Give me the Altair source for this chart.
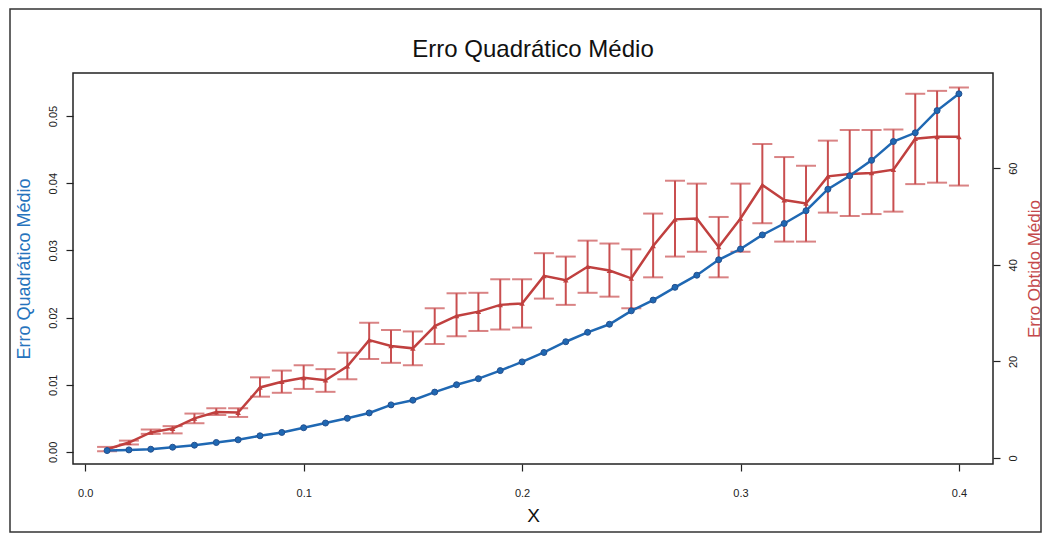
import altair as alt
import pandas as pd

# ---- data ----
x_vals = [0.01, 0.02, 0.03, 0.04, 0.05, 0.06, 0.07, 0.08, 0.09, 0.10,
          0.11, 0.12, 0.13, 0.14, 0.15, 0.16, 0.17, 0.18, 0.19, 0.20,
          0.21, 0.22, 0.23, 0.24, 0.25, 0.26, 0.27, 0.28, 0.29, 0.30,
          0.31, 0.32, 0.33, 0.34, 0.35, 0.36, 0.37, 0.38, 0.39, 0.40]

eqm = [0.0002, 0.0003, 0.0004, 0.0007, 0.0010, 0.0014, 0.0018, 0.0024, 0.0029, 0.0036,
       0.0043, 0.0050, 0.0058, 0.0070, 0.0077, 0.0089, 0.0100, 0.0109, 0.0121, 0.0134,
       0.0148, 0.0164, 0.0178, 0.0190, 0.0210, 0.0226, 0.0245, 0.0263, 0.0286, 0.0302,
       0.0323, 0.0340, 0.0359, 0.0391, 0.0411, 0.0434, 0.0462, 0.0475, 0.0508, 0.0533]

erro_medio = [1.8, 3.2, 5.3, 6.1, 8.2, 9.5, 9.4, 14.6, 15.8, 16.6,
              16.1, 19.0, 24.4, 23.2, 22.7, 27.3, 29.4, 30.3, 31.7, 32.0,
              37.7, 36.8, 39.6, 38.8, 37.2, 43.9, 49.4, 49.6, 43.7, 49.6,
              56.5, 53.4, 52.7, 58.3, 58.8, 59.0, 59.7, 66.1, 66.5, 66.5]

erro_sup = [2.3, 3.6, 5.9, 6.6, 9.2, 10.3, 10.3, 16.7, 18.1, 19.2,
            18.4, 21.8, 28.0, 26.5, 26.2, 31.0, 34.1, 34.2, 37.0, 37.0,
            42.4, 41.7, 45.0, 44.4, 43.2, 50.6, 57.4, 56.8, 49.9, 56.8,
            65.0, 62.3, 60.5, 65.7, 67.9, 67.9, 68.0, 75.4, 76.0, 76.7]

erro_inf = [1.4, 2.8, 5.0, 5.1, 7.2, 8.9, 8.5, 12.7, 13.5, 14.3,
            13.7, 16.3, 20.5, 19.7, 19.2, 23.6, 25.2, 26.3, 26.6, 27.0,
            33.0, 31.7, 34.2, 33.4, 31.0, 37.4, 41.7, 42.7, 37.4, 42.7,
            48.6, 44.8, 44.8, 50.8, 50.1, 50.5, 51.0, 56.7, 57.0, 56.4]

x_ticks = [0.0, 0.1, 0.2, 0.3, 0.4]
left_ticks = [0.00, 0.01, 0.02, 0.03, 0.04, 0.05]
right_ticks = [0, 20, 40, 60]
title_text = ["Erro Quadrático Médio"]

df = pd.DataFrame({"x": x_vals, "eqm": eqm, "media": erro_medio,
                   "sup": erro_sup, "inf": erro_inf})

FONT = "Liberation Sans"
BLUE = "#1f68b3"
BLUE_DARK = "#24508f"
BLUE_TXT = "#2673bd"
RED = "#c0403f"
RED_BAR = "#c94f50"
RED_TXT = "#c4484a"

x_scale = alt.Scale(domain=[-0.0056, 0.4156], nice=False, zero=False)
x_axis = alt.Axis(values=x_ticks, format=".1f", title="X", labelAngle=0,
                  tickSize=7, labelPadding=16, titlePadding=8,
                  titleFontSize=19, labelFontSize=11, grid=False, domain=False)
X = alt.X("x:Q", scale=x_scale, axis=x_axis)

r_scale = alt.Scale(domain=[-1.24, 79.7], nice=False, zero=False)
r_axis = alt.Axis(values=right_ticks, format="d", orient="right",
                  title="Erro Obtido Médio", titleColor=RED_TXT,
                  titleAngle=270, titleBaseline="top", titleAlign="center",
                  labelAngle=-90, labelAlign="center", labelBaseline="top",
                  tickSize=7, labelPadding=7, titlePadding=8,
                  titleFontSize=17, labelFontSize=11, grid=False, domain=False)

l_scale = alt.Scale(domain=[-0.0018, 0.0564], nice=False, zero=False)
l_axis = alt.Axis(values=left_ticks, format=".2f", orient="left",
                  title="Erro Quadrático Médio", titleColor=BLUE_TXT,
                  labelAngle=-90, labelAlign="center", labelBaseline="bottom",
                  tickSize=7, labelPadding=8, titlePadding=14,
                  titleFontSize=18, labelFontSize=11, grid=False, domain=False)

base = alt.Chart(df)

red_rule = base.mark_rule(color=RED_BAR, strokeWidth=2).encode(
    x=X, y=alt.Y("inf:Q", scale=r_scale, axis=r_axis), y2="sup:Q")
red_cap_hi = base.mark_tick(color=RED_BAR, orient="horizontal", size=20, thickness=2).encode(
    x=X, y=alt.Y("sup:Q", scale=r_scale, axis=r_axis))
red_cap_lo = base.mark_tick(color=RED_BAR, orient="horizontal", size=20, thickness=2).encode(
    x=X, y=alt.Y("inf:Q", scale=r_scale, axis=r_axis))
red_line = base.mark_line(color=RED, strokeWidth=2.5).encode(
    x=X, y=alt.Y("media:Q", scale=r_scale, axis=r_axis))
red_pts = base.mark_point(shape="triangle-up", filled=True, color=RED, size=30, opacity=1).encode(
    x=X, y=alt.Y("media:Q", scale=r_scale, axis=r_axis))

red_group = alt.layer(red_rule, red_cap_hi, red_cap_lo, red_line, red_pts)

blue_line = base.mark_line(color=BLUE, strokeWidth=2.5).encode(
    x=X, y=alt.Y("eqm:Q", scale=l_scale, axis=l_axis))
blue_pts = base.mark_point(shape="circle", filled=True, color=BLUE, size=36, opacity=1,
                           stroke=BLUE_DARK, strokeWidth=1).encode(
    x=X, y=alt.Y("eqm:Q", scale=l_scale, axis=l_axis))

blue_group = alt.layer(blue_line, blue_pts)

frame = alt.Chart(pd.DataFrame({"k": [0]})).mark_rect(
    fill=None, stroke="#333333", strokeWidth=1.5).encode(
    x=alt.value(-63), x2=alt.value(968), y=alt.value(-64), y2=alt.value(459))

title = alt.Chart(pd.DataFrame({"t": title_text})).mark_text(
    font=FONT, fontSize=24, color="#111111", align="center", baseline="alphabetic").encode(
    text="t:N", x=alt.value(460), y=alt.value(-16))

chart = alt.layer(red_group, blue_group, frame, title).resolve_scale(
    y="independent"
).properties(
    width=920, height=391,
    autosize=alt.AutoSizeParams(type="none"),
    padding={"left": 65, "top": 65, "right": 49, "bottom": 70},
    background="white",
).configure_view(
    stroke="#222222", strokeWidth=1.5
).configure_axis(
    labelFont=FONT, titleFont=FONT, titleFontWeight="normal",
    labelColor="#222222", tickColor="#222222", titleColor="#111111",
    tickWidth=1.2
)

chart.save("out.html", embed_options={"renderer": "svg", "actions": False})
